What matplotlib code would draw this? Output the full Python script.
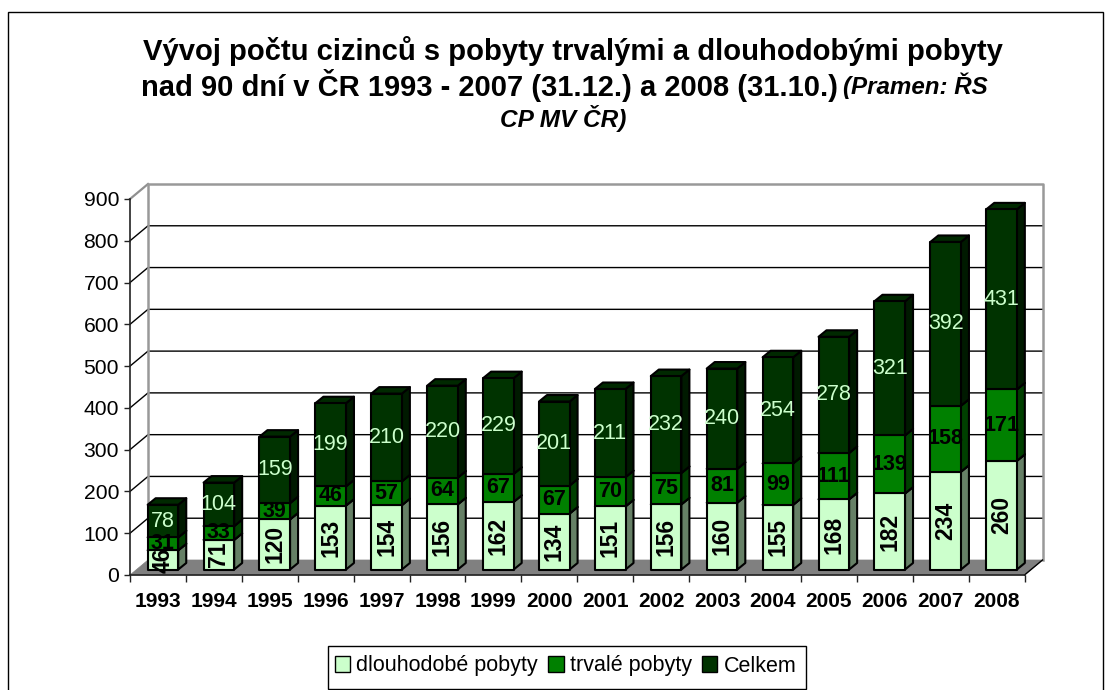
import matplotlib
matplotlib.use("Agg")
import matplotlib.pyplot as plt
from matplotlib.patches import Polygon, Patch, Rectangle

plt.rcParams['font.family'] = ['Liberation Sans', 'DejaVu Sans']

# hodnoty v tisicich
years = ['1993', '1994', '1995', '1996', '1997', '1998', '1999', '2000',
         '2001', '2002', '2003', '2004', '2005', '2006', '2007', '2008']
dlouhodobe = [46, 71, 120, 153, 154, 156, 162, 134, 151, 156, 160, 155, 168, 182, 234, 260]
trvale = [31, 33, 39, 46, 57, 64, 67, 67, 70, 75, 81, 99, 111, 139, 158, 171]
celkem = [78, 104, 159, 199, 210, 220, 229, 201, 211, 232, 240, 254, 278, 321, 392, 431]
yticks = [0, 100, 200, 300, 400, 500, 600, 700, 800, 900]

W, H = 1111, 690
fig = plt.figure(figsize=(W / 100, H / 100), dpi=100)
fig.patch.set_facecolor('white')

# ramecek grafu
fig.add_artist(Rectangle((8 / W, -0.01), 1095 / W, 1 - 12 / H + 0.01, transform=fig.transFigure,
                         fill=False, edgecolor='black', lw=1))

ax = fig.add_axes([130 / W, 1 - 575 / H, 894.5 / W, 376 / H])
ax.set_xlim(-0.5, 15.5)
ax.set_ylim(0, 900)
ax.patch.set_visible(False)
for s in ['top', 'right']:
    ax.spines[s].set_visible(False)
for s in ['left', 'bottom']:
    ax.spines[s].set_color('#222222')
    ax.spines[s].set_linewidth(1.2)
    ax.spines[s].set_zorder(3)

px_x = 16 / 894.5
px_y = 900 / 376
dx = 18 * px_x
dy = 15 * px_y


def face(pts, color, z=2, edge='black', lw=1.5):
    ax.add_patch(Polygon(pts, closed=True, facecolor=color, edgecolor=edge, lw=lw,
                         joinstyle='round', clip_on=False, zorder=z))


# podlaha a steny
face([(-0.5, 0), (15.5, 0), (15.5 + dx, dy), (-0.5 + dx, dy)], '#808080', z=1, edge='#808080', lw=0.5)
for v in yticks[1:-1]:
    ax.plot([-0.5, -0.5 + dx, 15.5 + dx], [v, v + dy, v + dy], color='black', lw=1,
            clip_on=False, zorder=1.2)
ax.plot([-0.5, -0.5 + dx], [900, 900 + dy], color='#909090', lw=1.6, clip_on=False, zorder=1.2)
ax.plot([-0.5 + dx, -0.5 + dx, 15.5 + dx, 15.5 + dx], [dy, 900 + dy, 900 + dy, dy],
        color='#999999', lw=1.8, clip_on=False, zorder=1.5)
ax.plot([15.5, 15.5 + dx], [0, dy], color='black', lw=1, clip_on=False, zorder=1.5)

# sloupce
colors = ['#ccffcc', '#008000', '#003300']
sides = ['#668066', '#004000', '#001a00']
tops = ['#a3cca3', '#006600', '#002900']
label_colors = ['black', 'black', '#ccffcc']
label_weights = ['bold', 'bold', 'normal']
label_sizes = [16.5, 15.5, 15.5]
half = 15.3 * px_x
off_x = 5 * px_x
off_y = 5.5 * px_y
bar_dx = 8 * px_x
bar_dy = 6.5 * px_y

for i in range(len(years)):
    xc = i + off_x
    bottom = off_y
    for k, vals in enumerate([dlouhodobe, trvale, celkem]):
        v = vals[i]
        top = bottom + v
        l, r = xc - half, xc + half
        face([(r, bottom), (r + bar_dx, bottom + bar_dy), (r + bar_dx, top + bar_dy), (r, top)],
             sides[k], z=2 + i * 0.01)
        face([(l, top), (r, top), (r + bar_dx, top + bar_dy), (l + bar_dx, top + bar_dy)],
             tops[k], z=2 + i * 0.01)
        face([(l, bottom), (r, bottom), (r, top), (l, top)], colors[k], z=2 + i * 0.01)
        ax.text(xc, bottom + v / 2, str(v), ha='center', va='center', fontsize=label_sizes[k],
                fontweight=label_weights[k], color=label_colors[k],
                rotation=90 if k == 0 else 0, clip_on=False, zorder=4)
        bottom = top

ax.set_xticks([i - 0.5 for i in range(len(years) + 1)])
ax.set_xticklabels([])
ax.tick_params(axis='x', length=4.7, width=1, color='#222222')
ax.set_yticks(yticks)
ax.tick_params(axis='y', length=4.3, width=1, color='#222222', labelsize=15.2, pad=3.6)
for i, y in enumerate(years):
    ax.text(i, -64, y, ha='center', va='center', fontsize=15, fontweight='bold', clip_on=False)

# nadpis
fig.text(573 / W, 1 - 51 / H, 'Vývoj počtu cizinců s pobyty trvalými a dlouhodobými pobyty',
         ha='center', va='center', fontsize=21.1, fontweight='bold')
fig.text(838 / W, 1 - 86 / H, 'nad 90 dní v ČR 1993 - 2007 (31.12.) a 2008 (31.10.)',
         ha='right', va='center', fontsize=21, fontweight='bold')
fig.text(843 / W, 1 - 86 / H, '(Pramen: ŘS', ha='left', va='center', fontsize=17.4,
         fontweight='bold', fontstyle='italic')
fig.text(563 / W, 1 - 118 / H, 'CP MV ČR)', ha='center', va='center', fontsize=17.6,
         fontweight='bold', fontstyle='italic')

# legenda
fig.add_artist(Rectangle((328 / W, 1 - 689 / H), 478 / W, 43 / H, transform=fig.transFigure,
                         facecolor='white', edgecolor='black', lw=1))
handles = [Patch(facecolor=c, edgecolor='black', lw=1) for c in colors]
fig.legend(handles, ['dlouhodobé pobyty', 'trvalé pobyty', 'Celkem'], ncol=3,
           loc='center left', bbox_to_anchor=(335 / W, 1 - 666 / H), fontsize=15.5,
           frameon=False, handlelength=0.7, handleheight=0.7,
           handletextpad=0.28, columnspacing=0.5, borderpad=0, borderaxespad=0)

fig.savefig('out.png', dpi=100)
